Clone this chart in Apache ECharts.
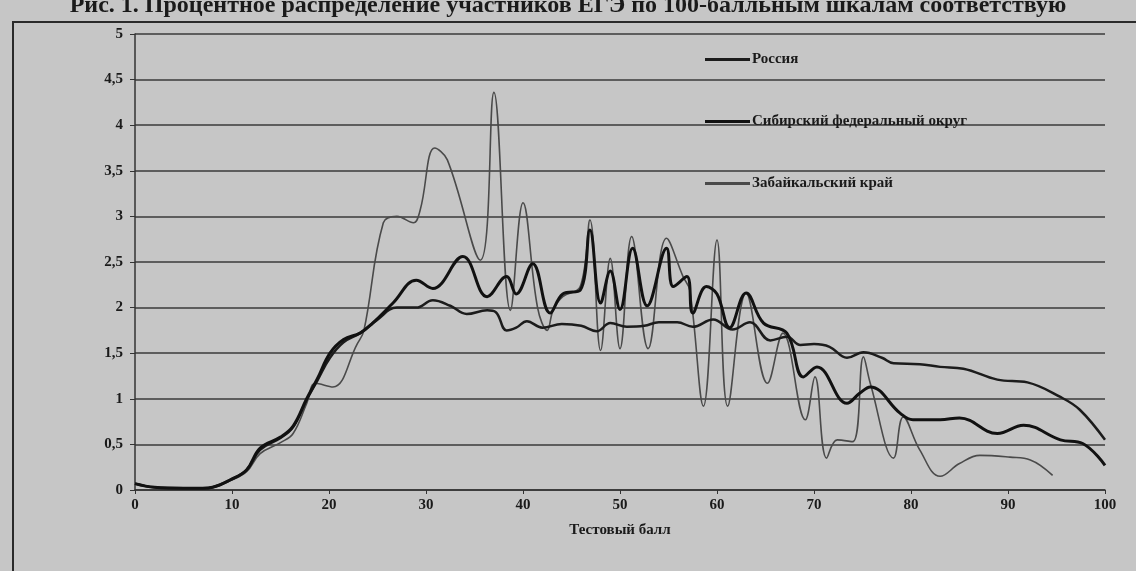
<!DOCTYPE html>
<html>
<head>
<meta charset="utf-8">
<script src="https://cdn.jsdelivr.net/npm/echarts@6/dist/echarts.min.js"></script>
<style>
html,body{margin:0;padding:0;background:#c6c6c6;}
#chart{width:1136px;height:571px;}
</style>
</head>
<body>
<div id="chart"></div>
<script>
const seriesNames = ['Россия', 'Сибирский федеральный округ', 'Забайкальский край'];
const xAxisName = 'Тестовый балл';
const titleText = 'Рис. 1. Процентное распределение участников ЕГЭ по 100-балльным шкалам соответствую';

const rusX = [0,2,5,7,8,9.8,11.5,12.9,15,16.3,17.7,18.8,20.1,21.5,23.2,24.9,27,29,30.7,32.5,34.2,36.3,37.2,38.3,39.3,40.4,42,44,46,47.6,49,50.7,52.5,54,55.9,57.5,59.6,61.6,63.4,65.5,67.2,68.6,70,71.6,73.4,75.1,77,78.2,80.9,83,85.4,88.9,92,95.4,97.4,100];
const rusY = [0.07,0.03,0.02,0.02,0.03,0.11,0.22,0.44,0.57,0.69,0.99,1.2,1.45,1.62,1.72,1.86,2.0,2.0,2.08,2.02,1.93,1.97,1.95,1.75,1.78,1.85,1.78,1.82,1.8,1.74,1.83,1.79,1.8,1.84,1.84,1.79,1.87,1.76,1.84,1.64,1.68,1.59,1.6,1.57,1.45,1.51,1.45,1.39,1.38,1.35,1.33,1.21,1.18,1.02,0.88,0.55];

const sibX = [0,2,5,7,8,9.8,11.5,12.9,15,16.3,17.7,18.8,20.1,21.5,23.2,24.5,26.6,29,30.7,33.8,36.3,38.3,39.3,41,42.8,44.1,45.9,46.9,48,49,50,51.3,52.8,54.8,55.5,56.9,57.5,58.9,60,61.3,63,64.8,67.2,68.9,70.3,73.4,74.7,75.8,78.9,80.2,83,85,88.9,91.6,95.4,97.7,100];
const sibY = [0.07,0.03,0.02,0.02,0.03,0.11,0.22,0.46,0.58,0.7,1.0,1.22,1.5,1.65,1.72,1.83,2.05,2.3,2.21,2.56,2.12,2.34,2.15,2.48,1.94,2.15,2.19,2.85,2.05,2.4,1.98,2.65,2.02,2.65,2.23,2.34,1.94,2.23,2.15,1.78,2.16,1.83,1.72,1.24,1.35,0.95,1.06,1.13,0.84,0.77,0.77,0.79,0.62,0.71,0.55,0.51,0.27];

const zabX = [0,2,5,7,8,9.8,11.5,12.9,15,16.3,17.7,18.6,20.4,22.9,23.6,25.6,27,28.7,29.4,30.9,32.2,35.6,37,38.7,40,41.5,42.5,43.1,44.1,45.9,46.9,48,49,50,51.2,52.9,54.8,56.5,57.2,58.6,60,61.1,63,65.2,66.8,69.1,70.1,71.3,72.4,74,75.1,75.8,78.2,79.2,80.9,83,85,87.1,90.2,92.3,94.6];
const zabY = [0.07,0.03,0.02,0.02,0.03,0.1,0.2,0.4,0.52,0.62,0.95,1.17,1.13,1.6,1.75,2.93,3.0,2.93,3.07,3.75,3.62,2.52,4.36,1.97,3.15,2.0,1.75,1.97,2.12,2.23,2.96,1.53,2.54,1.55,2.78,1.55,2.76,2.34,2.19,0.92,2.74,0.92,2.16,1.17,1.72,0.77,1.24,0.35,0.55,0.53,1.46,1.17,0.35,0.8,0.44,0.15,0.29,0.38,0.36,0.33,0.16];

const xTicks = {min: 0, max: 100, interval: 10};
const yTicks = {min: 0, max: 5, interval: 0.5};

function pairs(xs, ys){ return xs.map((x,i)=>[x, ys[i]]); }

const font = 'Liberation Serif';
const chart = echarts.init(document.getElementById('chart'));
chart.setOption({
  backgroundColor: '#c6c6c6',
  animation: false,
  textStyle: {fontFamily: font},
  graphic: [
    {type:'rect', shape:{x:13, y:22, width:1200, height:700}, style:{fill:'none', stroke:'#2a2a2a', lineWidth:2}, silent:true, z:-1},
    {type:'text', x:568, y:-6, style:{text:titleText, fontFamily:font, fontWeight:'bold', fontSize:24, fill:'#1a1a1a', textAlign:'center'}, silent:true}
  ],
  grid: {left:135, right:31, top:34, bottom:81},
  legend: {
    orient: 'vertical', left: 700, top: 47, itemGap: 47, itemWidth: 45, itemHeight: 3,
    icon: 'rect',
    textStyle: {fontFamily: font, fontWeight: 'bold', fontSize: 15, color: '#1a1a1a', padding:[0,0,0,-3]},
    data: seriesNames
  },
  xAxis: {
    type: 'value', min: xTicks.min, max: xTicks.max, interval: xTicks.interval,
    name: xAxisName, nameLocation: 'middle', nameGap: 33,
    nameTextStyle: {fontFamily: font, fontWeight:'bold', fontSize: 15, color:'#1a1a1a'},
    axisLine: {lineStyle: {color:'#333', width:1.5}},
    axisTick: {show:true, length:4, lineStyle:{color:'#333'}},
    axisLabel: {fontFamily: font, fontWeight:'bold', fontSize: 15, color:'#1a1a1a', margin: 8},
    splitLine: {show:false}
  },
  yAxis: {
    type: 'value', min: yTicks.min, max: yTicks.max, interval: yTicks.interval,
    axisLine: {show:true, lineStyle: {color:'#333', width:1.5}},
    axisTick: {show:true, length:5, lineStyle:{color:'#333'}},
    axisLabel: {fontFamily: font, fontWeight:'bold', fontSize: 15, color:'#1a1a1a', margin: 12,
      formatter: v => String(v).replace('.', ',')},
    splitLine: {show:true, lineStyle:{color:'#3a3a3a', width:1.5}}
  },
  series: [
    {name: seriesNames[0], type:'line', data: pairs(rusX, rusY), smooth: 0.4, showSymbol:false, symbol:'none',
      lineStyle:{color:'#1c1c1c', width:2.5}, itemStyle:{color:'#1c1c1c'}, z:3},
    {name: seriesNames[1], type:'line', data: pairs(sibX, sibY), smooth: 0.4, showSymbol:false, symbol:'none',
      lineStyle:{color:'#111', width:3}, itemStyle:{color:'#111'}, z:4},
    {name: seriesNames[2], type:'line', data: pairs(zabX, zabY), smooth: 0.4, showSymbol:false, symbol:'none',
      lineStyle:{color:'#4a4a4a', width:1.6}, itemStyle:{color:'#4a4a4a'}, z:2}
  ]
});
</script>
</body>
</html>
